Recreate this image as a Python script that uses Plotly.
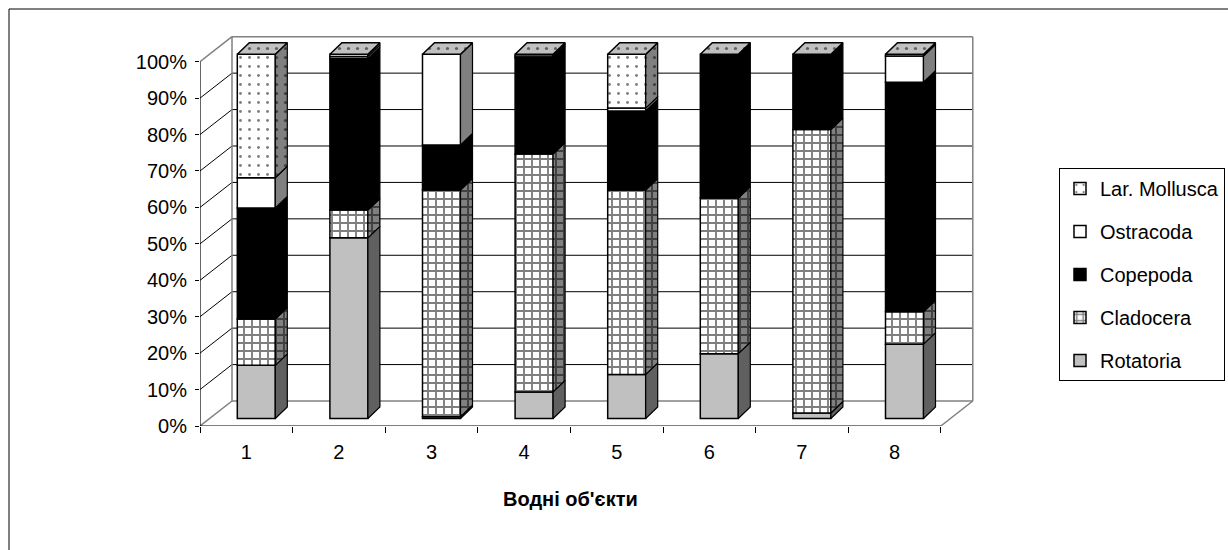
import plotly.graph_objects as go

# ---------------- data ----------------
categories = ["1", "2", "3", "4", "5", "6", "7", "8"]
rotatoria = [14.6, 49.6, 0.5, 7.3, 12.1, 17.8, 1.5, 20.4]
cladocera = [12.7, 7.6, 62.2, 65.3, 50.6, 42.7, 77.8, 8.9]
copepoda = [30.5, 41.6, 12.4, 26.4, 21.7, 39.5, 20.7, 63.0]
ostracoda = [8.3, 0.6, 24.9, 0.5, 0.8, 0.0, 0.0, 7.2]
mollusca = [33.9, 0.6, 0.0, 0.5, 14.8, 0.0, 0.0, 0.5]
series_names = ["Rotatoria", "Cladocera", "Copepoda", "Ostracoda", "Lar. Mollusca"]
y_ticks = [0, 10, 20, 30, 40, 50, 60, 70, 80, 90, 100]
x_title = "Водні об'єкти"

series_values = [rotatoria, cladocera, copepoda, ostracoda, mollusca]

# ---------------- geometry / style ----------------
W, H = 1228, 550
L, R, T, B = 200, 254, 35, 124
PX_X = 92.6      # pixels per category
PX_Y = 3.643     # pixels per percent
N = len(categories)
xmin = 0.5
xmax = xmin + (W - L - R) / PX_X
ymax = (H - T - B) / PX_Y

WALL_DX, WALL_DY = 32 / PX_X, 25 / PX_Y
BAR_SHIFT, BAR_BASE = 10 / PX_X, 7.5 / PX_Y
BAR_W = 38 / PX_X
DEP_DX, DEP_DY = 12 / PX_X, 11.5 / PX_Y

FONT = "Liberation Sans, Arial, sans-serif"

brick_front = dict(shape="+", fgcolor="black", bgcolor="white", size=8, solidity=0.42)
brick_side = dict(shape="+", fgcolor="black", bgcolor="#808080", size=8, solidity=0.42)
front_style = [
    dict(color="#C0C0C0", pattern=None),
    dict(color="white", pattern=brick_front),
    dict(color="black", pattern=None),
    dict(color="white", pattern=None),
    dict(color="white", pattern=dict(shape=".", fgcolor="black", bgcolor="white", size=9, solidity=0.08)),
]
side_style = [
    dict(color="#606060", pattern=None),
    dict(color="#808080", pattern=brick_side),
    dict(color="black", pattern=None),
    dict(color="#808080", pattern=None),
    dict(color="#808080", pattern=dict(shape=".", fgcolor="black", bgcolor="#808080", size=9, solidity=0.1)),
]
top_style = dict(color="#C0C0C0", pattern=dict(shape=".", fgcolor="black", bgcolor="#C0C0C0", size=9, solidity=0.1))

fig = go.Figure()

xpos = [i + 1 + BAR_SHIFT for i in range(N)]

# cumulative bases
cum = [0.0] * N
bases = []
for vals in series_values:
    bases.append(cum[:])
    cum = [c + v for c, v in zip(cum, vals)]
totals = cum

# front faces (bars)
for k, (name, vals) in enumerate(zip(series_names, series_values)):
    st = front_style[k]
    marker = dict(color=st["color"], line=dict(color="black", width=1.5))
    if st["pattern"]:
        marker["pattern"] = st["pattern"]
    fig.add_trace(go.Bar(
        x=xpos,
        y=[v if v > 0 else None for v in vals],
        base=[b + BAR_BASE for b in bases[k]],
        width=BAR_W,
        marker=marker,
        name=name,
        legendgroup=name,
        legendrank=len(series_names) - k,
        hoverinfo="skip",
    ))

# side faces
for k, (name, vals) in enumerate(zip(series_names, series_values)):
    xs, ys = [], []
    for i in range(N):
        if vals[i] <= 0:
            continue
        x1 = xpos[i] + BAR_W / 2
        y0 = bases[k][i] + BAR_BASE
        y1 = y0 + vals[i]
        xs += [x1, x1 + DEP_DX, x1 + DEP_DX, x1, x1, None]
        ys += [y0, y0 + DEP_DY, y1 + DEP_DY, y1, y0, None]
    st = side_style[k]
    kw = dict(fill="toself", fillcolor=st["color"])
    if st["pattern"]:
        kw["fillpattern"] = st["pattern"]
    fig.add_trace(go.Scatter(x=xs, y=ys, mode="lines", line=dict(color="black", width=1.2),
                             showlegend=False, hoverinfo="skip", **kw))

# top faces
xs, ys = [], []
for i in range(N):
    x0 = xpos[i] - BAR_W / 2
    x1 = xpos[i] + BAR_W / 2
    yt = totals[i] + BAR_BASE
    xs += [x0, x1, x1 + DEP_DX, x0 + DEP_DX, x0, None]
    ys += [yt, yt, yt + DEP_DY, yt + DEP_DY, yt, None]
fig.add_trace(go.Scatter(x=xs, y=ys, mode="lines", line=dict(color="black", width=1.5),
                         fill="toself", fillcolor=top_style["color"], fillpattern=top_style["pattern"],
                         showlegend=False, hoverinfo="skip"))

# axis lines (front)
fig.add_trace(go.Scatter(x=[xmin, xmin, N + 0.5], y=[y_ticks[-1], 0, 0], mode="lines",
                         line=dict(color="black", width=1.2), showlegend=False,
                         hoverinfo="skip", cliponaxis=False))

# walls and gridlines
shapes = []
bx0 = xmin + WALL_DX
bx1 = N + 0.5 + WALL_DX
for v in y_ticks:
    edge = v in (y_ticks[0], y_ticks[-1])
    col = "#808080" if edge else "black"
    wid = 1.5 if edge else 1
    shapes.append(dict(type="line", xref="x", yref="y", x0=xmin, y0=v, x1=bx0, y1=v + WALL_DY,
                       line=dict(color=col, width=wid), layer="below"))
    shapes.append(dict(type="line", xref="x", yref="y", x0=bx0, y0=v + WALL_DY, x1=bx1, y1=v + WALL_DY,
                       line=dict(color=col, width=wid), layer="below"))
for xv in (bx0, bx1):
    shapes.append(dict(type="line", xref="x", yref="y", x0=xv, y0=WALL_DY, x1=xv, y1=y_ticks[-1] + WALL_DY,
                       line=dict(color="#808080", width=1.5), layer="below"))
shapes.append(dict(type="line", xref="x", yref="y", x0=N + 0.5, y0=0, x1=bx1, y1=WALL_DY,
                   line=dict(color="#808080", width=1.5), layer="below"))

# outer chart border
pw, ph = W - L - R, H - T - B
def px2paper_x(px):
    return (px - L) / pw
def px2paper_y(py):
    return (H - B - py) / ph
shapes.append(dict(type="rect", xref="paper", yref="paper",
                   x0=px2paper_x(9), y0=px2paper_y(565), x1=px2paper_x(1245), y1=px2paper_y(9),
                   line=dict(color="black", width=1), fillcolor="rgba(0,0,0,0)", layer="below"))

fig.update_layout(
    width=W, height=H,
    margin=dict(l=L, r=R, t=T, b=B, autoexpand=False),
    paper_bgcolor="white", plot_bgcolor="white",
    barmode="overlay",
    font=dict(family=FONT, size=20, color="black"),
    shapes=shapes,
    showlegend=True,
    legend=dict(
        x=px2paper_x(1059), y=px2paper_y(168), xanchor="left", yanchor="top",
        bgcolor="white", bordercolor="black", borderwidth=1,
        traceorder="grouped", tracegroupgap=14,
        font=dict(family=FONT, size=20, color="black"),
        itemwidth=30, entrywidth=200, entrywidthmode="pixels",
    ),
    xaxis=dict(
        range=[xmin, xmax], showgrid=False, zeroline=False, showline=False,
        tickmode="array", tickvals=list(range(1, N + 1)), ticktext=categories,
        ticks="", ticklabelstandoff=12,
        minor=dict(tickmode="array", tickvals=[i + 0.5 for i in range(N + 1)],
                   ticks="outside", ticklen=6, tickcolor="black", tickwidth=1, showgrid=False),
        fixedrange=True,
    ),
    yaxis=dict(
        range=[0, ymax], showgrid=False, zeroline=False, showline=False,
        tickmode="array", tickvals=y_ticks, ticktext=[f"{v}%" for v in y_ticks],
        ticks="outside", ticklen=4, tickcolor="black", ticklabelstandoff=4,
        fixedrange=True,
    ),
    annotations=[dict(
        x=(N + 1) / 2, y=px2paper_y(499), xref="x", yref="paper",
        text=f"<b>{x_title}</b>", showarrow=False, xanchor="center", yanchor="middle",
        font=dict(family=FONT, size=20, color="black"),
    )],
)

fig.write_html("out.html", config={"displayModeBar": False},
               post_script="document.body.style.margin='0';document.body.style.overflow='hidden';")
